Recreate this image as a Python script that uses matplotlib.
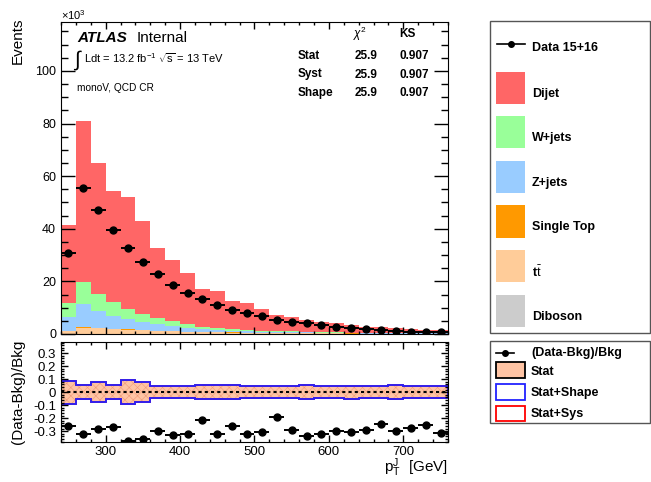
import numpy as np
import matplotlib
matplotlib.use('Agg')
import matplotlib.pyplot as plt
from matplotlib.patches import Rectangle
from matplotlib.lines import Line2D
from matplotlib.ticker import MultipleLocator, FuncFormatter

plt.rcParams['font.family'] = ['Liberation Sans', 'DejaVu Sans']
plt.rcParams['mathtext.fontset'] = 'custom'
plt.rcParams['mathtext.rm'] = 'Liberation Sans'
plt.rcParams['mathtext.it'] = 'Liberation Sans:italic'
plt.rcParams['hatch.linewidth'] = 0.4

# 20 GeV bins from 240 to 760 GeV
edges = np.arange(240, 761, 20)
centers = edges[:-1] + 10

# background stack, events per bin in units of 10^3
diboson = [0.05, 0.10, 0.10, 0.08, 0.07, 0.06, 0.05, 0.04, 0.04, 0.03, 0.03, 0.02, 0.02,
           0.02, 0.02, 0.02, 0.01, 0.01, 0.01, 0.01, 0.01, 0.01, 0.01, 0.01, 0.01, 0.01]
ttbar = [1.15, 2.20, 2.00, 1.77, 1.58, 1.52, 1.15, 0.98, 0.79, 0.71, 0.62, 0.54, 0.44,
         0.40, 0.35, 0.30, 0.27, 0.22, 0.19, 0.17, 0.16, 0.13, 0.11, 0.10, 0.08, 0.08]
singletop = [0.10, 0.20, 0.20, 0.15, 0.15, 0.12, 0.10, 0.08, 0.07, 0.06, 0.05, 0.04, 0.04,
             0.03, 0.03, 0.03, 0.02, 0.02, 0.02, 0.02, 0.01, 0.01, 0.01, 0.01, 0.01, 0.01]
zjets = [5.0, 8.9, 6.6, 5.0, 3.9, 2.7, 2.5, 1.8, 1.5, 1.2, 0.9, 0.7, 0.6,
         0.45, 0.40, 0.35, 0.30, 0.25, 0.23, 0.20, 0.17, 0.15, 0.14, 0.12, 0.10, 0.10]
wjets = [5.5, 8.3, 6.3, 5.0, 3.8, 3.2, 2.3, 2.2, 1.4, 0.8, 0.6, 0.5, 0.4,
         0.4, 0.3, 0.3, 0.25, 0.25, 0.2, 0.15, 0.15, 0.15, 0.13, 0.11, 0.10, 0.08]
dijet = [29.8, 61.3, 49.8, 42.3, 42.5, 35.2, 26.5, 23.1, 19.2, 14.3, 14.0, 10.9, 10.4,
         8.3, 6.1, 5.6, 4.45, 3.85, 3.35, 2.85, 2.3, 2.05, 1.7, 1.45, 1.2, 1.22]

data = [30.7, 55.4, 47.2, 39.5, 32.8, 27.4, 22.7, 18.7, 15.6, 13.2, 11.0, 9.1, 7.8,
        6.7, 5.5, 4.6, 4.0, 3.3, 2.8, 2.4, 1.8, 1.4, 1.0, 0.8, 0.6, 0.6]

# (Data-Bkg)/Bkg and relative stat uncertainty of the background
ratio = [-0.26, -0.32, -0.28, -0.27, -0.375, -0.36, -0.30, -0.33, -0.32, -0.21, -0.32, -0.26, -0.325,
         -0.305, -0.19, -0.29, -0.335, -0.32, -0.30, -0.305, -0.29, -0.245, -0.30, -0.275, -0.25, -0.31]
stat_err = [0.088, 0.055, 0.078, 0.055, 0.09, 0.078, 0.045, 0.045, 0.045, 0.052, 0.052, 0.052, 0.045,
            0.045, 0.045, 0.045, 0.055, 0.045, 0.045, 0.05, 0.045, 0.045, 0.055, 0.045, 0.045, 0.045]

stack = [diboson, ttbar, singletop, zjets, wjets, dijet]
stack_colors = ['#cccccc', '#ffcc99', '#ff9900', '#99ccff', '#99ff99', '#ff6666']

W, H = 651, 482
fig = plt.figure(figsize=(W / 100, H / 100), dpi=100)

def fx(px):
    return px / W

def fy(py):
    return 1 - py / H

ax = fig.add_axes([fx(61), fy(334), 387 / W, 312 / H])
rax = fig.add_axes([fx(61), fy(442.3), 387 / W, 100.3 / H])

# --- main panel
ax.hist([centers] * len(stack), bins=edges, weights=stack, stacked=True,
        histtype='stepfilled', color=stack_colors, linewidth=0)
ax.errorbar(centers, data, xerr=10, fmt='o', color='black', markersize=5,
            elinewidth=1.4, capsize=0)

ax.set_xlim(240, 760)
ax.set_ylim(0, 118.6)
ax.xaxis.set_major_locator(MultipleLocator(100))
ax.xaxis.set_minor_locator(MultipleLocator(20))
ax.yaxis.set_major_locator(MultipleLocator(20))
ax.yaxis.set_minor_locator(MultipleLocator(5))
ax.tick_params(which='both', direction='in', top=True, right=True, labelbottom=False,
               labelsize=9, width=1)
ax.tick_params(axis='y', which='major', length=10)
ax.tick_params(axis='y', which='minor', length=5)
ax.tick_params(axis='x', which='major', length=5)
ax.tick_params(axis='x', which='minor', length=2.5)

# --- ratio panel
err = np.array(stat_err)
rax.stairs(err, edges, baseline=-err, fill=True, facecolor='#ffc4a4', edgecolor='#f09a78',
           hatch='xxxx', linewidth=0)
rax.stairs(err, edges, baseline=-err, fill=False, color='red', linewidth=1.3)
rax.stairs(err, edges, baseline=-err, fill=False, color='#2222ff', linewidth=1.3)
rax.axhline(0, color='black', linestyle=(0, (1.5, 1.5)), linewidth=1.5)
rax.errorbar(centers, ratio, xerr=10, fmt='o', color='black', markersize=5,
             elinewidth=1.4, capsize=0)

rax.set_xlim(240, 760)
rax.set_ylim(-0.385, 0.385)
rax.xaxis.set_major_locator(MultipleLocator(100))
rax.xaxis.set_minor_locator(MultipleLocator(20))
rax.yaxis.set_major_locator(MultipleLocator(0.1))
rax.yaxis.set_minor_locator(MultipleLocator(0.02))
rax.yaxis.set_major_formatter(FuncFormatter(lambda v, p: '0' if abs(v) < 1e-9 else '%.1f' % v))
rax.tick_params(which='both', direction='in', top=True, right=True, labelsize=9.5, width=1)
rax.tick_params(axis='x', which='both', pad=2.5)
rax.tick_params(axis='y', which='major', length=5)
rax.tick_params(axis='y', which='minor', length=2.5)
rax.tick_params(axis='x', which='major', length=5)
rax.tick_params(axis='x', which='minor', length=2.5)

# --- axis titles
fig.text(fx(18), fy(18), 'Events', rotation=90, ha='center', va='top', fontsize=11)
fig.text(fx(61), fy(15), r'$\times$10$^{3}$', ha='left', va='center', fontsize=8)
fig.text(fx(18), fy(392), '(Data-Bkg)/Bkg', rotation=90, ha='center', va='center', fontsize=11)
fig.text(fx(448), fy(468), r'p$_{\rm T}^{\rm J}$  [GeV]', ha='right', va='center', fontsize=11)

# --- ATLAS labels
fig.text(fx(77), fy(38), 'ATLAS', fontsize=11, fontweight='bold', style='italic', va='center')
fig.text(fx(137), fy(38), 'Internal', fontsize=11, va='center')
fig.text(fx(73), fy(60), r'$\int$', fontsize=15, va='center')
fig.text(fx(84), fy(58), r'Ldt = 13.2 fb$^{-1}$', fontsize=8, va='center')
fig.text(fx(158), fy(58), r'$\sqrt{\rm s}$ = 13 TeV', fontsize=8, va='center')
fig.text(fx(77), fy(88), 'monoV, QCD CR', fontsize=7.3, va='center')

# --- compatibility table
fig.text(fx(353), fy(34), r'$\chi^{2}$', fontsize=8.5, va='center')
fig.text(fx(399), fy(34), 'KS', fontsize=8.5, fontweight='bold', va='center')
for row, yy in zip(['Stat', 'Syst', 'Shape'], [56, 74.5, 93]):
    fig.text(fx(298), fy(yy), row, fontsize=8.5, fontweight='bold', va='center')
    fig.text(fx(355), fy(yy), '25.9', fontsize=8.5, fontweight='bold', va='center')
    fig.text(fx(399), fy(yy), '0.907', fontsize=8.5, fontweight='bold', va='center')

# --- legends drawn in pixel space
lax = fig.add_axes([0, 0, 1, 1])
lax.set_xlim(0, W)
lax.set_ylim(H, 0)
lax.axis('off')

lax.add_patch(Rectangle((490, 20.7), 160, 312.3, fill=False, edgecolor='#555555', linewidth=1))
lax.add_line(Line2D([497, 525], [43.5, 43.5], color='black', linewidth=1.2))
lax.plot([511], [43.5], 'o', color='black', markersize=4)
lax.text(532, 48, 'Data 15+16', fontsize=9, fontweight='bold', va='center')

entries = ['Dijet', 'W+jets', 'Z+jets', 'Single Top', r't$\bar{\rm t}$', 'Diboson']
ent_colors = ['#ff6666', '#99ff99', '#99ccff', '#ff9900', '#ffcc99', '#cccccc']
sw_top = [71.7, 116, 160.7, 205.3, 250, 295]
for name, col, top in zip(entries, ent_colors, sw_top):
    lax.add_patch(Rectangle((496, top), 29, 32.3, facecolor=col, edgecolor='none'))
    lax.text(532, top + 22, name, fontsize=9, fontweight='bold', va='center')

lax.add_patch(Rectangle((490, 340.7), 160, 82.3, fill=False, edgecolor='#555555', linewidth=1))
lax.add_line(Line2D([496, 514], [352.7, 352.7], color='black', linewidth=1.2))
lax.plot([505], [352.7], 'o', color='black', markersize=4)
lax.text(531, 352.7, '(Data-Bkg)/Bkg', fontsize=9, fontweight='bold', va='center')
lax.add_patch(Rectangle((496, 361.5), 29, 16.5, facecolor='#ffc4a4', edgecolor='black', linewidth=1.3))
lax.text(531, 371.7, 'Stat', fontsize=9, fontweight='bold', va='center')
lax.add_patch(Rectangle((496, 384.3), 29, 16, facecolor='white', edgecolor='#2222ff', linewidth=1.3))
lax.text(531, 393.3, 'Stat+Shape', fontsize=9, fontweight='bold', va='center')
lax.add_patch(Rectangle((496, 405.7), 29, 15.3, facecolor='white', edgecolor='red', linewidth=1.3))
lax.text(531, 414, 'Stat+Sys', fontsize=9, fontweight='bold', va='center')

fig.savefig('out.png', dpi=100)
